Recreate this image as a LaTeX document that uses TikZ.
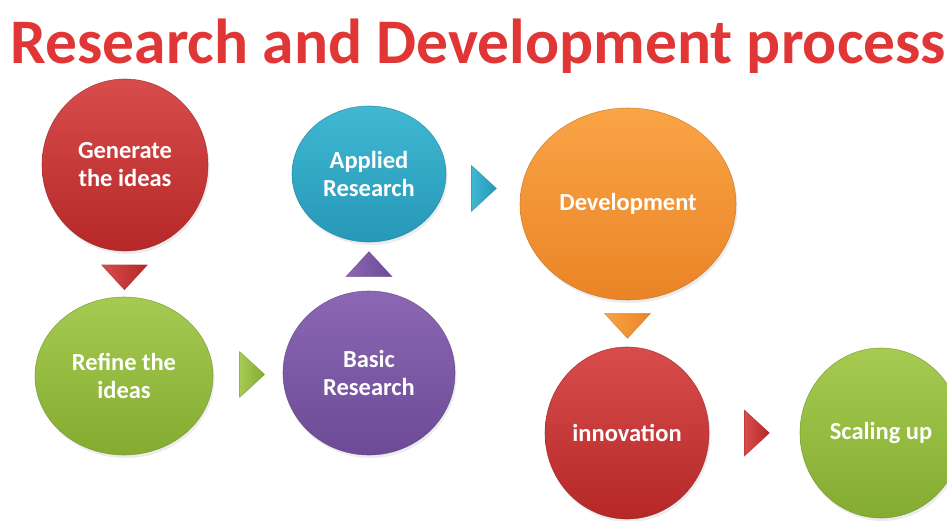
\documentclass[tikz,border=0pt]{standalone}
\usepackage{fontspec}
\setmainfont{Carlito}
\usetikzlibrary{shapes.geometric,shadows}

% palette
\definecolor{titlered}{RGB}{224,54,54}
\definecolor{redA}{RGB}{216,76,76}\definecolor{redB}{RGB}{182,40,40}
\definecolor{grnA}{RGB}{166,202,82}\definecolor{grnB}{RGB}{132,172,48}
\definecolor{purA}{RGB}{140,104,180}\definecolor{purB}{RGB}{108,74,150}
\definecolor{cyaA}{RGB}{64,184,210}\definecolor{cyaB}{RGB}{38,152,184}
\definecolor{orgA}{RGB}{250,164,70}\definecolor{orgB}{RGB}{234,132,38}

\tikzset{
  bubble/.style 2 args={ellipse, inner sep=0pt, top color=#1, bottom color=#2,
    draw=#2!85!black, draw opacity=0.7, line width=0.6pt, text=white, align=center,
    font=\fontsize{24.5}{28}\selectfont\bfseries,
    drop shadow={opacity=0.15, shadow xshift=1.5pt, shadow yshift=-3pt}},
  tri/.style 2 args={isosceles triangle, isosceles triangle stretches, inner sep=0pt,
    minimum width=46pt, minimum height=25pt, left color=#1, right color=#2,
    draw=#2!85!black, draw opacity=0.6, line width=0.5pt},
}

\begin{document}
\begin{tikzpicture}[x=1pt,y=-1pt]
\useasboundingbox (0,0) rectangle (947,520);
\fill[white] (0,0) rectangle (947,520);
\clip (0,0) rectangle (947,520);

% title
\node[anchor=base, text=titlered, font=\fontsize{63.5}{70}\selectfont\bfseries]
  (title) at (478.5,63) {Research and Development process};

% stages
\node[bubble={redA}{redB}, minimum width=166pt, minimum height=172pt]
  (gen) at (125,165) {Generate\\the ideas};
\node[bubble={grnA}{grnB}, minimum width=178pt, minimum height=158pt]
  (ref) at (124,376) {Refine the\\ideas};
\node[bubble={purA}{purB}, minimum width=172pt, minimum height=164pt]
  (bas) at (369,373) {Basic\\Research};
\node[bubble={cyaA}{cyaB}, minimum width=154pt, minimum height=136pt]
  (app) at (369,174) {Applied\\Research};
\node[bubble={orgA}{orgB}, minimum width=216pt, minimum height=192pt]
  (dev) at (628,204) {Development};
\node[bubble={redA}{redB}, minimum width=164pt, minimum height=172pt]
  (inn) at (627,433) {innovation};
\node[bubble={grnA}{grnB}, minimum width=162pt, minimum height=170pt]
  (sca) at (881,433) {Scaling up};

% arrows between stages
\path (gen) -- (ref) node[tri={redA}{redB}, pos=0.52, rotate=-90] (a1) {};
\path (ref) -- (bas) node[tri={grnA}{grnB}, pos=0.525, rotate=0] (a2) {};
\path (bas) -- (app) node[tri={purA}{purB}, pos=0.5, rotate=90] (a3) {};
\path (app.east) -- (dev.west) node[tri={cyaA}{cyaB}, pos=0.48, rotate=0] (a4) {};
\path (dev.south) -- (inn.north) node[tri={orgA}{orgB}, pos=0.5, rotate=-90] (a5) {};
\path (inn.east) -- (sca.west) node[tri={redA}{redB}, pos=0.5, rotate=0] (a6) {};
\end{tikzpicture}
\end{document}
